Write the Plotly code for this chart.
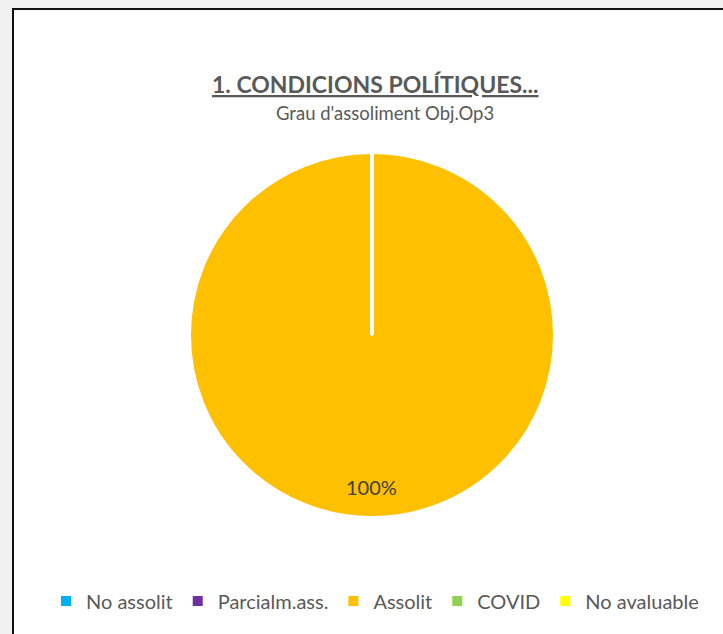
import math
import plotly.graph_objects as go

# ---- data ----
categories = ["No assolit", "Parcialm.ass.", "Assolit", "COVID", "No avaluable"]
values = [0, 0, 1, 0, 0]
colors = ["#00B0F0", "#7030A0", "#FFC000", "#92D050", "#FFFF00"]
title_text = "1. CONDICIONS POLÍTIQUES..."
subtitle_text = "Grau d'assoliment Obj.Op3"

W, H = 723, 634
FONT = "Lato, 'Open Sans', 'Noto Sans', sans-serif"

# pie placement (pixels)
cx, cy, r = 372, 335, 182
dom_x = [(cx - r) / W, (cx + r) / W]
dom_y = [1 - (cy + r) / H, 1 - (cy - r) / H]

total = sum(values)
pct_labels = [f"{round(100 * v / total)}%" if v > 0 else "" for v in values]

fig = go.Figure()
fig.add_trace(go.Pie(
    labels=categories,
    values=values,
    sort=False,
    direction="clockwise",
    rotation=0,
    marker=dict(colors=colors, line=dict(color="white", width=2)),
    textinfo="none",
    hoverinfo="label+percent",
    domain=dict(x=dom_x, y=dom_y),
    showlegend=True,
))

# data label placed inside the main slice, toward its middle (bottom)
annotations = []
for lab, v in zip(pct_labels, values):
    if v > 0:
        ang = math.pi  # middle of the full slice, measured clockwise from top
        lx = cx + 0.84 * r * math.sin(ang)
        ly = cy - 0.84 * r * math.cos(ang)
        annotations.append(dict(
            x=lx / W, y=1 - (ly - 1) / H, xref="paper", yref="paper",
            xanchor="center", yanchor="middle",
            text=lab, showarrow=False,
            font=dict(family=FONT, size=20, color="#404040"),
        ))

annotations.append(dict(
    x=375 / W, y=1 - 84 / H, xref="paper", yref="paper",
    xanchor="center", yanchor="middle",
    text=f"<b><u>{title_text}</u></b>", showarrow=False,
    font=dict(family=FONT, size=23, color="#595959"),
))
annotations.append(dict(
    x=385 / W, y=1 - 113 / H, xref="paper", yref="paper",
    xanchor="center", yanchor="middle",
    text=subtitle_text, showarrow=False,
    font=dict(family=FONT, size=18.5, color="#595959"),
))

shapes = [
    # chart frame
    dict(type="rect", xref="paper", yref="paper",
         x0=13 / W, x1=1.05, y0=-0.05, y1=1 - 9 / H,
         fillcolor="white", line=dict(color="#111111", width=2), layer="below"),
    # white slice border from centre to the start of the slice
    dict(type="line", xref="paper", yref="paper",
         x0=cx / W, x1=cx / W, y0=1 - cy / H, y1=dom_y[1] + 0.003,
         line=dict(color="white", width=4), layer="above"),
]

fig.update_layout(
    width=W, height=H,
    margin=dict(l=0, r=0, t=0, b=0),
    paper_bgcolor="#f0f0f0",
    plot_bgcolor="white",
    annotations=annotations,
    shapes=shapes,
    legend=dict(
        orientation="h", x=375 / W, xanchor="center",
        y=1 - 601 / H, yanchor="middle",
        font=dict(family=FONT, size=20, color="#595959"),
        bgcolor="rgba(0,0,0,0)", itemwidth=30,
        traceorder="normal",
    ),
)

fig.write_html(
    "out.html",
    config={"displayModeBar": False},
    post_script="document.body.style.margin='0';document.body.style.background='#f0f0f0';",
)
